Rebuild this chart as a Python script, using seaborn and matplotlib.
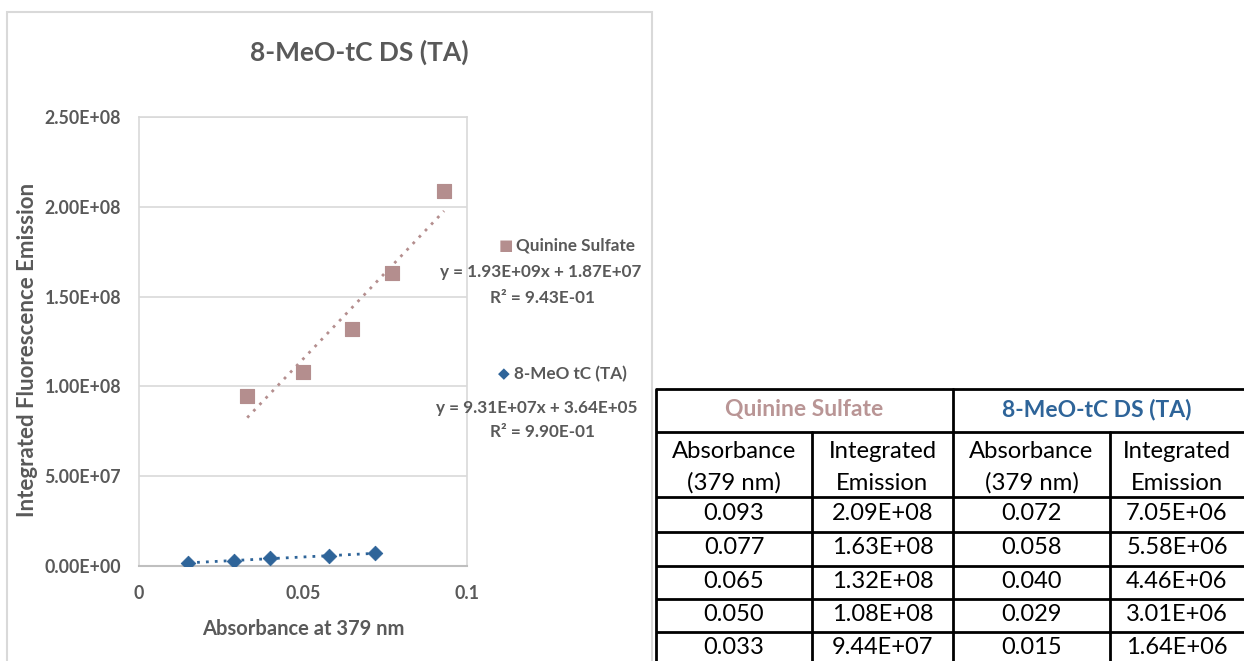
import numpy as np
import pandas as pd
import matplotlib
matplotlib.use("Agg")
import matplotlib.pyplot as plt
import seaborn as sns
from matplotlib.patches import Rectangle

sns.set_theme(style="white")
plt.rcParams['font.family'] = ['Lato', 'DejaVu Sans']

# ---------------- data ----------------
qs_abs = [0.093, 0.077, 0.065, 0.050, 0.033]
qs_em = [2.09e8, 1.63e8, 1.32e8, 1.08e8, 9.44e7]
meo_abs = [0.072, 0.058, 0.040, 0.029, 0.015]
meo_em = [7.05e6, 5.58e6, 4.46e6, 3.01e6, 1.64e6]

qs_abs_txt = ["0.093", "0.077", "0.065", "0.050", "0.033"]
qs_em_txt = ["2.09E+08", "1.63E+08", "1.32E+08", "1.08E+08", "9.44E+07"]
meo_abs_txt = ["0.072", "0.058", "0.040", "0.029", "0.015"]
meo_em_txt = ["7.05E+06", "5.58E+06", "4.46E+06", "3.01E+06", "1.64E+06"]

series_names = ["Quinine Sulfate", "8-MeO tC (TA)"]
table_titles = ["Quinine Sulfate", "8-MeO-tC DS (TA)"]
col_heads = ["Absorbance\n(379 nm)", "Integrated\nEmission",
             "Absorbance\n(379 nm)", "Integrated\nEmission"]
eq_texts = ["y = 1.93E+09x + 1.87E+07", "y = 9.31E+07x + 3.64E+05"]
r2_texts = ["R\u00b2 = 9.43E-01", "R\u00b2 = 9.90E-01"]
yticks = [0, 5e7, 1e8, 1.5e8, 2e8, 2.5e8]
ytick_labels = ["0.00E+00", "5.00E+07", "1.00E+08", "1.50E+08", "2.00E+08", "2.50E+08"]
xticks = [0, 0.05, 0.1]
xtick_labels = ["0", "0.05", "0.1"]

QS_COL = "#B48E8E"
MEO_COL = "#2E6499"
GRAY = "#595959"

W, H = 1244, 661
fig = plt.figure(figsize=(W / 100, H / 100), dpi=100)
fig.patch.set_facecolor("white")

def fx(px):
    return px / W

def fy(py):
    return 1 - py / H

# chart frame
fig.patches.append(Rectangle((fx(7), fy(668)), fx(652) - fx(7), fy(12) - fy(668),
                             transform=fig.transFigure, fill=False,
                             edgecolor="#d9d9d9", linewidth=1.5))

ax = fig.add_axes([fx(139), fy(566), fx(467) - fx(139), fy(117) - fy(566)])

df_qs = pd.DataFrame({"x": qs_abs, "y": qs_em})
df_meo = pd.DataFrame({"x": meo_abs, "y": meo_em})

sns.regplot(data=df_qs, x="x", y="y", ax=ax, ci=None, truncate=True, scatter=False,
            line_kws=dict(color=QS_COL, linestyle=(0, (1, 2.2)), linewidth=2.0))
sns.regplot(data=df_meo, x="x", y="y", ax=ax, ci=None, truncate=True, scatter=False,
            line_kws=dict(color=MEO_COL, linestyle=(0, (1, 2.2)), linewidth=2.0))
sns.scatterplot(data=df_qs, x="x", y="y", ax=ax, marker="s", s=105, color=QS_COL,
                edgecolor=QS_COL, zorder=3)
sns.scatterplot(data=df_meo, x="x", y="y", ax=ax, marker="D", s=55, color=MEO_COL,
                edgecolor=MEO_COL, zorder=3)

ax.set_xlim(0, 0.1)
ax.set_ylim(0, 2.5e8)
ax.set_yticks(yticks)
ax.set_yticklabels(ytick_labels)
ax.set_xticks(xticks)
ax.set_xticklabels(xtick_labels)
ax.tick_params(axis="both", length=0, labelsize=12.8, labelcolor=GRAY)
ax.tick_params(axis="y", pad=13)
ax.tick_params(axis="x", pad=14)
for lab in ax.get_xticklabels() + ax.get_yticklabels():
    lab.set_fontweight("bold")
ax.yaxis.grid(True, color="#d9d9d9", linewidth=1.2)
ax.set_axisbelow(True)
for side in ["top", "right", "left"]:
    ax.spines[side].set_color("#d9d9d9")
    ax.spines[side].set_linewidth(1.2)
ax.spines["bottom"].set_color("#bfbfbf")
ax.spines["bottom"].set_linewidth(1.5)
ax.set_xlabel("Absorbance at 379 nm", fontsize=14.5, fontweight="bold", color=GRAY, labelpad=12)
ax.set_ylabel("Integrated Fluorescence Emission", fontsize=16, fontweight="bold", color=GRAY)
ax.yaxis.set_label_coords((38 - 139) / 328, (566 - 350) / 449)

fig.text(fx(359), fy(52), "8-MeO-tC DS (TA)", ha="center", va="center",
         fontsize=19, fontweight="bold", color=GRAY)

# legend-like labels with trendline equations
fig.text(fx(499), fy(245), "\u25a0", color=QS_COL, fontsize=11, ha="left", va="center",
         family=["DejaVu Sans"])
fig.text(fx(516), fy(245), series_names[0], color=GRAY, fontsize=12.3, fontweight="bold",
         ha="left", va="center")
fig.text(fx(541), fy(272), eq_texts[0], color=GRAY, fontsize=12.3, fontweight="bold",
         ha="center", va="center")
fig.text(fx(542), fy(298), r2_texts[0], color=GRAY, fontsize=12.3, fontweight="bold",
         ha="center", va="center")

fig.text(fx(498), fy(374), "\u25c6", color=MEO_COL, fontsize=11, ha="left", va="center",
         family=["DejaVu Sans"])
fig.text(fx(514), fy(374), series_names[1], color=GRAY, fontsize=12.3, fontweight="bold",
         ha="left", va="center")
fig.text(fx(537), fy(408), eq_texts[1], color=GRAY, fontsize=12.3, fontweight="bold",
         ha="center", va="center")
fig.text(fx(543), fy(432), r2_texts[1], color=GRAY, fontsize=12.3, fontweight="bold",
         ha="center", va="center")

# ---------------- table ----------------
tax = fig.add_axes([0, 0, 1, 1])
tax.set_xlim(0, W)
tax.set_ylim(H, 0)
tax.axis("off")
tax.patch.set_alpha(0)

col_x = [656, 812, 953, 1110, 1262]
row_y = [389, 432, 497, 532, 566, 599, 632, 666]
lw = 2.0
for y in row_y:
    tax.plot([col_x[0], col_x[-1]], [y, y], color="black", linewidth=lw, solid_capstyle="butt")
tax.plot([col_x[0], col_x[0]], [row_y[0], row_y[-1]], color="black", linewidth=lw)
tax.plot([col_x[2], col_x[2]], [row_y[0], row_y[-1]], color="black", linewidth=lw)
tax.plot([col_x[1], col_x[1]], [row_y[1], row_y[-1]], color="black", linewidth=lw)
tax.plot([col_x[3], col_x[3]], [row_y[1], row_y[-1]], color="black", linewidth=lw)

tax.text((col_x[0] + col_x[2]) / 2, (row_y[0] + row_y[1]) / 2 - 1, table_titles[0],
         color="#B99595", fontsize=16.5, fontweight="bold", ha="center", va="center")
tax.text((col_x[2] + 1244) / 2 - 2, (row_y[0] + row_y[1]) / 2 - 1, table_titles[1],
         color=MEO_COL, fontsize=16.5, fontweight="bold", ha="center", va="center")

for i, head in enumerate(col_heads):
    cx = (col_x[i] + min(col_x[i + 1], 1244)) / 2
    l1, l2 = head.split("\n")
    tax.text(cx, 451, l1, fontsize=17.2, color="black", ha="center", va="center")
    tax.text(cx, 483, l2, fontsize=17.2, color="black", ha="center", va="center")

cols = [qs_abs_txt, qs_em_txt, meo_abs_txt, meo_em_txt]
for i, col in enumerate(cols):
    cx = (col_x[i] + min(col_x[i + 1], 1244)) / 2
    for j, val in enumerate(col):
        cy = (row_y[j + 2] + row_y[j + 3]) / 2 - 1
        tax.text(cx, cy, val, fontsize=17, color="black", ha="center", va="center")

fig.savefig("out.png", dpi=100, facecolor="white")
